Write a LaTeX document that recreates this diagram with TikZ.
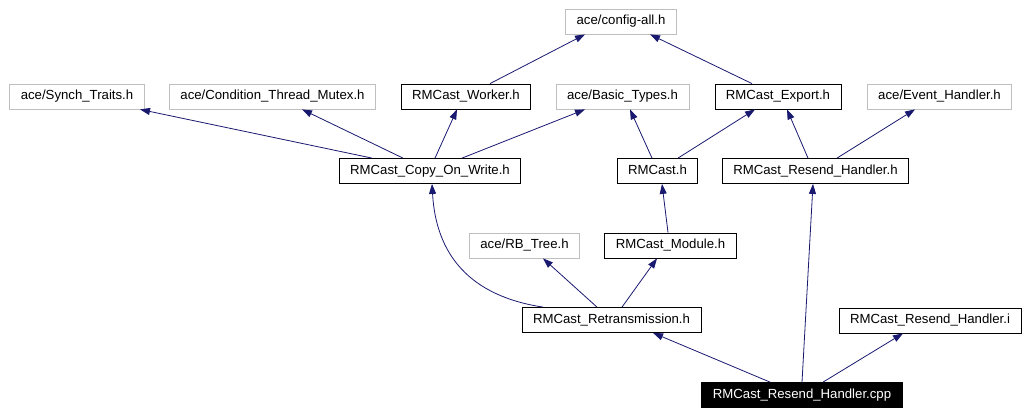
\documentclass[tikz,border=0pt]{standalone}
\usepackage{fontspec}
\setmainfont{Liberation Sans}
\usepackage{xcolor}
\usepackage{tikz}
\usetikzlibrary{arrows.meta}
\definecolor{edgeblue}{HTML}{191970}
\definecolor{extgray}{HTML}{BFBFBF}

\begin{document}
\begin{tikzpicture}[x=1pt,y=-1pt,
  file/.style={draw=black,line width=0.8pt,inner xsep=11pt,minimum height=25pt,
    text height=9.5pt,text depth=2.8pt,font=\fontsize{13.2}{15}\selectfont},
  ext/.style={file,draw=extgray},
  top/.style={file,fill=black,text=white},
  dep/.style={edgeblue,line width=0.8pt,-{Triangle[length=10pt,width=7pt]}}]
\useasboundingbox (0,0) rectangle (1030,415);
%%\draw[step=10pt,color=black!20,dotted] (0,0) grid (1030,415);
\node[ext]    (cfg)     at (621,21.5)   {ace/config-all.h};
\node[ext]    (synch)   at (77,96.5)    {ace/Synch\_Traits.h};
\node[ext]    (cond)    at (272.5,96.5) {ace/Condition\_Thread\_Mutex.h};
\node[file]   (worker)  at (466,96.5)   {RMCast\_Worker.h};
\node[ext]    (basic)   at (622.5,96.5) {ace/Basic\_Types.h};
\node[file]   (export)  at (778,96.5)   {RMCast\_Export.h};
\node[ext]    (evh)     at (939.5,96.5) {ace/Event\_Handler.h};
\node[file]   (cow)     at (430,171)    {RMCast\_Copy\_On\_Write.h};
\node[file]   (rmcast)  at (657.5,171)  {RMCast.h};
\node[file]   (rsh)     at (815.5,171)  {RMCast\_Resend\_Handler.h};
\node[ext]    (rbtree)  at (524.5,245.5) {ace/RB\_Tree.h};
\node[file]   (module)  at (670.5,245.5) {RMCast\_Module.h};
\node[file]   (retrans) at (611.5,320)  {RMCast\_Retransmission.h};
\node[file]   (rshi)    at (930,320.5)  {RMCast\_Resend\_Handler.i};
\node[top]    (cpp)     at (802,395)    {RMCast\_Resend\_Handler.cpp};
\foreach \s/\a/\d/\b in {worker/24/cfg/-36, export/-26/cfg/29,
    cow/-58/synch/63, cow/-27/cond/29.5, cow/5/worker/-9, cow/32/basic/-37.5,
    rmcast/-5.5/basic/7.5, rmcast/20.5/export/-23, rsh/-7.5/export/9, rsh/21.5/evh/-24.5,
    module/-2.5/rmcast/4.5, retrans/-14.5/rbtree/18.5, retrans/10.5/module/-13.5,
    cpp/-32/retrans/41.5, cpp/0/rsh/-2.5, cpp/21/rshi/-27}
    \draw[dep] ([xshift=\a]\s.north) -- ([xshift=\b]\d.south);
\draw[dep] ([xshift=-68.5]retrans.north) .. controls (470,296) and (436,255) .. ([xshift=2]cow.south);
\end{tikzpicture}
\end{document}
